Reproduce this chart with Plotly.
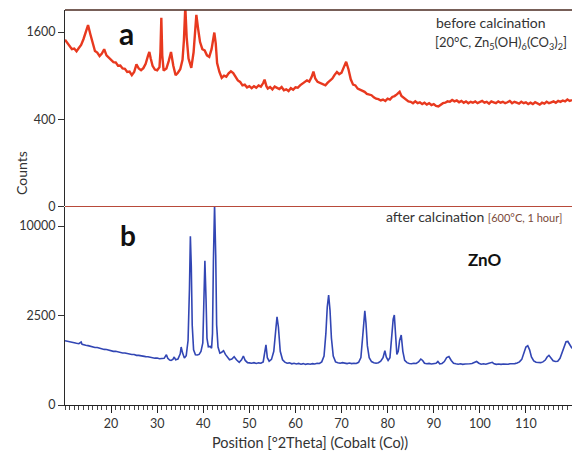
import numpy as np
import plotly.graph_objects as go

# ---- (a) before calcination: Zn5(OH)6(CO3)2 precursor scan ----
two_theta_a = [
    10.0, 10.5, 11.0, 11.5, 12.0, 12.5, 13.0, 13.5, 14.0, 14.5,
    15.0, 15.5, 16.0, 16.5, 17.0, 17.5, 18.0, 18.5, 19.0, 19.5,
    20.0, 20.5, 21.0, 21.5, 22.0, 22.5, 23.0, 23.5, 24.0, 24.5,
    25.0, 25.5, 26.0, 26.5, 27.0, 27.5, 28.0, 28.3, 28.6, 29.0,
    29.5, 30.0, 30.5, 30.7, 30.9, 31.1, 31.4, 32.0, 32.5, 33.0,
    33.5, 34.0, 34.5, 35.0, 35.5, 35.8, 36.1, 36.4, 36.8, 37.4,
    37.9, 38.2, 38.5, 38.9, 39.3, 39.8, 40.3, 40.8, 41.3, 41.8,
    42.1, 42.4, 42.7, 43.0, 43.5, 44.0, 44.5, 45.0, 45.5, 46.0,
    46.5, 47.0, 47.5, 48.0, 48.5, 49.0, 49.5, 50.0, 50.5, 51.0,
    51.5, 52.0, 52.5, 53.0, 53.3, 53.7, 54.0, 54.5, 55.0, 55.5,
    56.0, 56.5, 57.0, 57.5, 58.0, 58.5, 59.0, 59.5, 60.0, 60.5,
    61.0, 61.5, 62.0, 62.5, 63.0, 63.5, 63.9, 64.3, 64.8, 65.5,
    66.0, 66.5, 67.0, 67.5, 68.0, 68.5, 69.0, 69.5, 70.0, 70.5,
    71.0, 71.5, 72.0, 72.5, 73.0, 73.5, 74.0, 74.5, 75.0, 75.5,
    76.0, 76.5, 77.0, 77.5, 78.0, 78.5, 79.0, 79.5, 80.0, 80.5,
    81.0, 81.5, 82.0, 82.6, 83.0, 83.5, 84.0, 84.5, 85.0, 85.5,
    86.0, 86.5, 87.0, 87.5, 88.0, 88.5, 89.0, 89.5, 90.0, 90.5,
    91.0, 91.5, 92.0, 92.5, 93.0, 93.5, 94.0, 94.5, 95.0, 95.5,
    96.0, 96.5, 97.0, 97.5, 98.0, 98.5, 99.0, 99.5, 100.0, 100.5,
    101.0, 101.5, 102.0, 102.5, 103.0, 103.5, 104.0, 104.5, 105.0, 105.5,
    106.0, 106.5, 107.0, 107.5, 108.0, 108.5, 109.0, 109.5, 110.0, 110.5,
    111.0, 111.5, 112.0, 112.5, 113.0, 113.5, 114.0, 114.5, 115.0, 115.5,
    116.0, 116.5, 117.0, 117.5, 118.0, 118.5, 119.0, 119.5, 120.0,
]
counts_a = [
    1460, 1410, 1365, 1300, 1310, 1265, 1320, 1370, 1470, 1590,
    1730, 1560, 1390, 1270, 1245, 1190, 1230, 1300, 1200, 1160,
    1125, 1095, 1090, 1040, 1045, 1000, 995, 950, 955, 905,
    950, 1060, 1000, 975, 1005, 1070, 1190, 1255, 1150, 1040,
    985, 975, 1020, 1250, 1870, 1200, 970, 1000, 1110, 1255,
    1040, 905, 940, 990, 1130, 1450, 2100, 1500, 1150, 1010,
    1250, 1600, 1930, 1650, 1420, 1300, 1280, 1200, 1175, 1300,
    1470, 1590, 1400, 1080, 950, 870, 900, 885, 930, 960,
    935, 880, 835, 815, 770, 780, 745, 760, 735, 760,
    740, 770, 755, 800, 845, 760, 730, 750, 720, 755,
    740, 725, 750, 710, 720, 700, 735, 715, 745, 740,
    770, 790, 810, 835, 820, 880, 955, 860, 815, 800,
    790, 770, 805, 830, 860, 910, 950, 920, 940, 1020,
    1100, 990, 850, 780, 770, 730, 715, 700, 690, 665,
    655, 650, 625, 610, 605, 590, 600, 585, 610, 600,
    630, 640, 660, 690, 640, 620, 600, 580, 575, 560,
    580, 560, 570, 550, 565, 545, 560, 540, 550, 530,
    525, 545, 560, 565, 580, 575, 595, 580, 590, 570,
    585, 565, 580, 560, 575, 565, 580, 560, 575, 585,
    565, 575, 555, 580, 570, 560, 580, 565, 575, 560,
    570, 585, 560, 575, 565, 555, 575, 560, 570, 550,
    565, 550, 570, 560, 545, 565, 555, 575, 560, 570,
    580, 565, 585, 575, 590, 580, 600, 585, 595,
]

# ---- (b) after calcination: ZnO scan ----
two_theta_b = [
    10.0, 10.5, 11.0, 11.5, 12.0, 12.5, 13.0, 13.5, 13.7, 14.0,
    14.5, 15.0, 15.5, 16.0, 16.5, 17.0, 17.5, 18.0, 18.5, 19.0,
    19.5, 20.0, 20.5, 21.0, 21.5, 22.0, 22.5, 23.0, 23.5, 24.0,
    24.5, 25.0, 25.5, 26.0, 26.5, 27.0, 27.5, 28.0, 28.5, 29.0,
    29.5, 30.0, 30.5, 31.0, 31.5, 32.0, 32.3, 32.7, 33.0, 33.4,
    33.7, 34.0, 34.5, 35.0, 35.2, 35.5, 35.9, 36.3, 36.7, 37.0,
    37.2, 37.4, 37.6, 37.9, 38.3, 38.7, 39.1, 39.5, 39.9, 40.1,
    40.35, 40.6, 40.8, 41.1, 41.5, 41.8, 42.0, 42.2, 42.45, 42.7,
    42.9, 43.2, 43.6, 44.0, 44.4, 44.8, 45.3, 45.7, 46.2, 46.7,
    47.2, 47.8, 48.3, 48.7, 49.1, 49.6, 50.0, 50.5, 51.0, 51.5,
    52.0, 52.5, 53.0, 53.3, 53.6, 53.9, 54.3, 54.8, 55.3, 55.7,
    56.0, 56.3, 56.7, 57.2, 57.7, 58.2, 58.7, 59.2, 59.7, 60.2,
    60.7, 61.2, 61.7, 62.2, 62.7, 63.2, 63.7, 64.2, 64.7, 65.2,
    65.7, 66.2, 66.6, 66.9, 67.2, 67.5, 67.8, 68.2, 68.7, 69.2,
    69.7, 70.2, 70.7, 71.2, 71.7, 72.2, 72.7, 73.2, 73.7, 74.2,
    74.6, 74.85, 75.05, 75.3, 75.6, 76.0, 76.5, 77.0, 77.5, 78.0,
    78.5, 79.0, 79.4, 79.7, 80.1, 80.5, 80.9, 81.2, 81.45, 81.7,
    82.0, 82.3, 82.6, 82.95, 83.3, 83.7, 84.2, 84.7, 85.2, 85.7,
    86.2, 86.7, 87.2, 87.6, 88.0, 88.5, 89.0, 89.5, 90.0, 90.5,
    90.9, 91.3, 91.8, 92.3, 92.8, 93.3, 93.8, 94.3, 94.8, 95.3,
    95.8, 96.3, 96.8, 97.3, 97.8, 98.3, 98.8, 99.3, 99.8, 100.3,
    100.8, 101.3, 101.8, 102.3, 102.7, 103.1, 103.6, 104.1, 104.6, 105.1,
    105.6, 106.1, 106.6, 107.1, 107.6, 108.1, 108.6, 109.1, 109.6, 110.0,
    110.4, 110.8, 111.2, 111.7, 112.2, 112.7, 113.2, 113.7, 114.2, 114.6,
    115.0, 115.4, 115.9, 116.4, 116.9, 117.4, 117.9, 118.3, 118.7, 119.1,
    119.5, 120.0,
]
counts_b = [
    1290, 1265, 1255, 1230, 1215, 1190, 1175, 1240, 1150, 1145,
    1115, 1100, 1075, 1065, 1035, 1030, 1000, 995, 965, 960,
    935, 930, 900, 900, 875, 870, 845, 845, 820, 815,
    795, 795, 770, 770, 750, 750, 730, 725, 710, 705,
    685, 690, 670, 675, 680, 790, 680, 630, 620, 650,
    720, 640, 660, 820, 1050, 850, 690, 760, 1300, 4200,
    8900, 6000, 2000, 950, 790, 780, 800, 900, 1200, 3000,
    6500, 3500, 1400, 1060, 1070, 1010, 1600, 6500, 12500, 7000,
    2000, 1050, 840, 870, 920, 800, 700, 640, 660, 730,
    640, 570, 640, 750, 620, 560, 555, 545, 560, 540,
    555, 545, 580, 800, 1130, 700, 600, 650, 900, 1700,
    2430, 1900, 900, 640, 575, 545, 555, 530, 545, 525,
    540, 520, 535, 515, 530, 520, 535, 525, 545, 540,
    580, 750, 1600, 3000, 3770, 2800, 1400, 750, 580, 560,
    545, 560, 545, 535, 550, 535, 545, 540, 570, 700,
    1500, 2300, 2770, 2100, 1100, 700, 590, 560, 545, 560,
    600, 700, 920, 720, 620, 700, 1400, 2300, 2530, 1500,
    800, 900, 1300, 1530, 900, 620, 560, 540, 530, 545,
    540, 580, 660, 620, 545, 530, 540, 525, 535, 545,
    590, 530, 540, 590, 700, 735, 620, 545, 530, 520,
    530, 515, 525, 520, 530, 540, 565, 590, 545, 520,
    530, 520, 540, 560, 570, 530, 515, 525, 515, 525,
    515, 520, 530, 525, 535, 550, 580, 650, 850, 1050,
    1100, 950, 720, 610, 570, 555, 560, 580, 630, 720,
    770, 700, 610, 590, 600, 680, 880, 1100, 1250, 1260,
    1150, 1000,
]

# square-root intensity axes: tick positions given in counts
ticks_a = [0, 400, 1600]
ticks_b = [0, 2500, 10000]
ticks_x = [20, 30, 40, 50, 60, 70, 80, 90, 100, 110]

FONT = "Lato"
TXT = "#333333"

fig = go.Figure()
fig.add_trace(go.Scatter(
    x=two_theta_a, y=np.sqrt(counts_a), mode="lines",
    line=dict(color="#e8391f", width=2.4), xaxis="x", yaxis="y",
    hoverinfo="skip"))
fig.add_trace(go.Scatter(
    x=two_theta_b, y=np.sqrt(counts_b), mode="lines",
    line=dict(color="#3246b4", width=1.6), xaxis="x2", yaxis="y2",
    hoverinfo="skip"))

axis_font = dict(family=FONT, size=12.5, color=TXT)

fig.update_layout(
    width=572, height=452,
    margin=dict(l=65, r=0, t=10, b=47),
    paper_bgcolor="white", plot_bgcolor="white",
    showlegend=False,
    xaxis=dict(domain=[0, 1], anchor="y", range=[10, 120],
               showticklabels=False, showline=False, showgrid=False,
               zeroline=False, ticks=""),
    yaxis=dict(domain=[0.503, 1], anchor="x", range=[0, 45.05],
               tickvals=list(np.sqrt(ticks_a)),
               ticktext=[str(t) for t in ticks_a],
               ticks="outside", ticklen=6, tickcolor="#333",
               showline=True, linecolor="#2a2a2a", linewidth=1,
               showgrid=False, zeroline=False, tickfont=axis_font),
    xaxis2=dict(domain=[0, 1], anchor="y2", range=[10, 120],
                tickvals=ticks_x, ticktext=[str(t) for t in ticks_x],
                ticks="outside", ticklen=7, tickcolor="#222",
                minor=dict(ticks="outside", tickmode="linear", tick0=10,
                           dtick=1, ticklen=4, tickcolor="#444"),
                showline=True, linecolor="#222", linewidth=1,
                showgrid=False, zeroline=False, tickfont=axis_font),
    yaxis2=dict(domain=[0, 0.501], anchor="x2", range=[0, 110.6],
                tickvals=list(np.sqrt(ticks_b)),
                ticktext=[str(t) for t in ticks_b],
                ticks="outside", ticklen=6, tickcolor="#333",
                showline=True, linecolor="#2a2a2a", linewidth=1,
                showgrid=False, zeroline=False, tickfont=axis_font),
    shapes=[
        dict(type="line", xref="paper", yref="paper", x0=0, x1=1, y0=1, y1=1,
             line=dict(color="#4a2a20", width=1.5)),
        dict(type="line", xref="paper", yref="paper", x0=0, x1=1,
             y0=0.5025, y1=0.5025, line=dict(color="#b84a3a", width=1.2)),
    ],
)

def px_x(px):
    return (px - 65) / 507.0

def px_y(py):
    return (405 - py) / 395.0

annotations = [
    dict(text="<b>a</b>", x=px_x(126), y=px_y(33),
         font=dict(family=FONT, size=30, color="#111")),
    dict(text="<b>b</b>", x=px_x(128), y=px_y(235),
         font=dict(family=FONT, size=28, color="#111")),
    dict(text="<b>ZnO</b>", x=px_x(485), y=px_y(259),
         font=dict(family=FONT, size=17, color="#111")),
    dict(text="before calcination", x=px_x(434), y=px_y(22), xanchor="left",
         font=dict(family=FONT, size=14, color=TXT)),
    dict(text="[20°C, Zn<sub>5</sub>(OH)<sub>6</sub>(CO<sub>3</sub>)<sub>2</sub>]",
         x=px_x(433), y=px_y(43), xanchor="left",
         font=dict(family=FONT, size=13, color=TXT)),
    dict(text="after calcination <span style='font-size:11px;color:#7a4a3a'>[600°C, 1 hour]</span>",
         x=px_x(384), y=px_y(216), xanchor="left",
         font=dict(family=FONT, size=14, color=TXT)),
    dict(text="Counts", x=px_x(21), y=px_y(173), textangle=-90,
         font=dict(family=FONT, size=14, color=TXT)),
    dict(text="Position [°2Theta] (Cobalt (Co))", x=px_x(310), y=px_y(442),
         font=dict(family=FONT, size=14.5, color=TXT)),
]
for a in annotations:
    a.setdefault("xanchor", "center")
    a.update(xref="paper", yref="paper", yanchor="middle", showarrow=False)
fig.update_layout(annotations=annotations)

fig.write_html("out.html")
